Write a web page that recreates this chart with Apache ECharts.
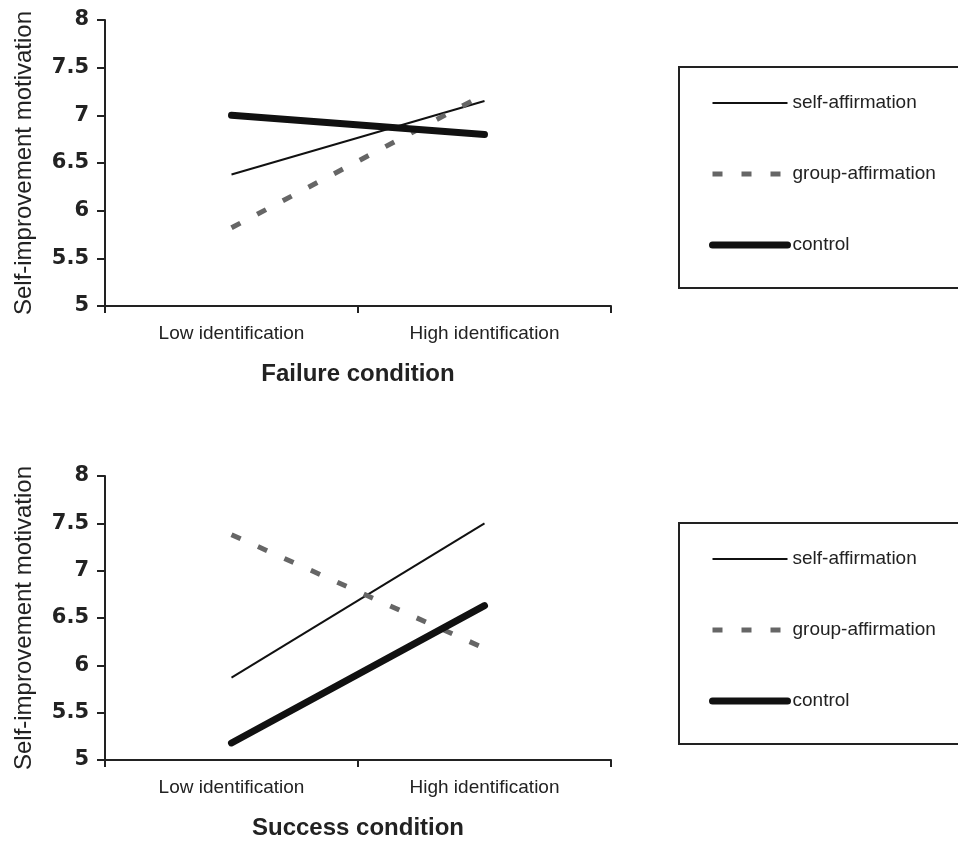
<!DOCTYPE html>
<html>
<head>
<meta charset="utf-8">
<script src="https://cdn.jsdelivr.net/npm/echarts@6/dist/echarts.min.js"></script>
<style>
  html, body { margin: 0; padding: 0; background: #fff; }
  #chart { width: 958px; height: 841px; }
</style>
</head>
<body>
<div id="chart"></div>
<script>
// datos
var categories = ["Low identification", "High identification"];
var seriesNames = ["self-affirmation", "group-affirmation", "control"];
var yTicks = [5, 5.5, 6, 6.5, 7, 7.5, 8];

var failureSelf = [6.38, 7.15];
var failureGroup = [5.82, 7.22];
var failureControl = [7.0, 6.8];

var successSelf = [5.87, 7.5];
var successGroup = [7.38, 6.18];
var successControl = [5.18, 6.63];

var axisColor = "#222";

// estilos de linea de cada serie (se usan tambien en la leyenda)
var lineStyles = [
  { color: "#111", width: 2 },
  { color: "#666", width: 5, type: [10, 19] },
  { color: "#111", width: 7, cap: "round" },
];

function makeX(gridIndex, name) {
  return {
    type: "category",
    gridIndex: gridIndex,
    data: categories,
    boundaryGap: true,
    name: name,
    nameLocation: "middle",
    nameGap: 56,
    nameTextStyle: { fontFamily: "Liberation Sans", fontSize: 24, fontWeight: "bold", color: axisColor },
    axisLine: { lineStyle: { color: axisColor, width: 2 } },
    axisTick: { show: true, length: 7, lineStyle: { color: axisColor, width: 2 } },
    axisLabel: { fontFamily: "Liberation Sans", fontSize: 19, color: axisColor, margin: 18 },
    splitLine: { show: false },
  };
}

function makeY(gridIndex) {
  return {
    type: "value",
    gridIndex: gridIndex,
    min: yTicks[0],
    max: yTicks[yTicks.length - 1],
    interval: 0.5,
    name: "Self-improvement motivation",
    nameLocation: "middle",
    nameGap: 69,
    nameTextStyle: { fontFamily: "Liberation Sans", fontSize: 24, color: axisColor },
    axisLine: { show: true, lineStyle: { color: axisColor, width: 2 } },
    axisTick: { show: true, length: 8, lineStyle: { color: axisColor, width: 2 } },
    axisLabel: { fontFamily: "DejaVu Sans", fontSize: 21, fontWeight: "bold", color: axisColor, margin: 16 },
    splitLine: { show: false },
  };
}

function makeSeries(gridIndex, values) {
  var out = [];
  for (var i = 0; i < seriesNames.length; i++) {
    out.push({
      name: seriesNames[i],
      type: "line",
      xAxisIndex: gridIndex,
      yAxisIndex: gridIndex,
      data: values[i],
      symbol: "none",
      silent: true,
      itemStyle: { color: lineStyles[i].color },
      lineStyle: lineStyles[i],
    });
  }
  return out;
}

function makeLegend(top) {
  var items = [];
  for (var i = 0; i < seriesNames.length; i++) {
    items.push({ name: seriesNames[i], lineStyle: lineStyles[i] });
  }
  return {
    orient: "vertical",
    left: 679,
    top: top,
    itemWidth: 75,
    itemHeight: 14,
    itemGap: 51,
    padding: [26, 60, 33, 30],
    borderColor: axisColor,
    borderWidth: 2,
    borderRadius: 0,
    selectedMode: false,
    itemStyle: { color: "rgba(0,0,0,0)", opacity: 0, borderWidth: 0 },
    textStyle: { fontFamily: "Liberation Sans", fontSize: 19, color: axisColor, lineHeight: 20 },
    data: items,
  };
}

var option = {
  animation: false,
  backgroundColor: "#fff",
  grid: [
    { left: 105, top: 20, width: 506, height: 286 },
    { left: 105, top: 476, width: 506, height: 286 },
  ],
  xAxis: [makeX(0, "Failure condition"), makeX(1, "Success condition")],
  yAxis: [makeY(0), makeY(1)],
  legend: [makeLegend(67), makeLegend(523)],
  series: makeSeries(0, [failureSelf, failureGroup, failureControl])
    .concat(makeSeries(1, [successSelf, successGroup, successControl])),
};

var chart = echarts.init(document.getElementById("chart"));
chart.setOption(option);
</script>
</body>
</html>
